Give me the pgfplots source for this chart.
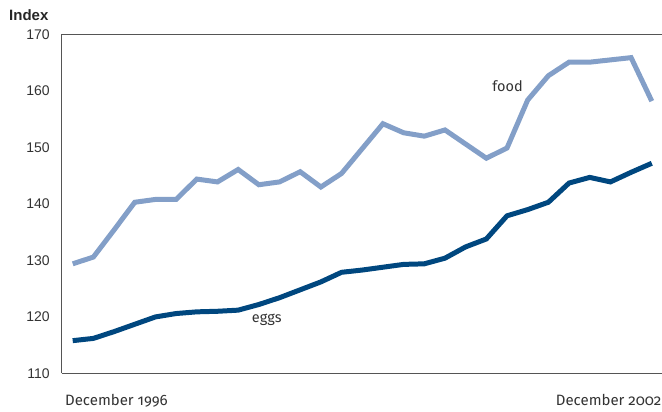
\documentclass[border=0pt]{standalone}
\usepackage{fontspec}
\setmainfont{Liberation Sans}
\newfontfamily\notefont[Numbers=OldStyle]{Fira Sans}
\usepackage{pgfplots}
\pgfplotsset{compat=1.18}
\definecolor{foodblue}{HTML}{839FC8}
\definecolor{eggnavy}{HTML}{00477F}
\definecolor{textgray}{HTML}{333333}
\definecolor{spine}{HTML}{555555}

\begin{document}
\begin{tikzpicture}
\begin{axis}[
  name=main, at={(0pt,0pt)}, anchor=south west,
  scale only axis, width=600pt, height=339.2pt,
  xmin=-0.52, xmax=28.47, ymin=110, ymax=170,
  axis x line*=box, axis y line*=left,
  axis line style={-, line width=1pt, color=spine},
  ytick={110,120,...,170}, xtick=\empty,
  major tick length=0pt,
  yticklabel style={font=\fontsize{14}{14}\selectfont, text=textgray,
    inner sep=0pt, anchor=east, xshift=-12pt},
  /pgf/number format/assume math mode=true,
  clip=false,
]
% food price index
\addplot[foodblue, line width=5pt] coordinates {
  (0,129.4) (1,130.6) (2,135.4) (3,140.3) (4,140.8) (5,140.8) (6,144.4)
  (7,143.9) (8,146.1) (9,143.4) (10,143.9) (11,145.7) (12,143.0) (13,145.4)
  (14,149.8) (15,154.2) (16,152.6) (17,152.0) (18,153.1) (19,150.6) (20,148.1)
  (21,149.9) (22,158.4) (23,162.7) (24,165.1) (25,165.1) (26,165.5) (27,165.9)
  (28,158.2)};
% egg price index
\addplot[eggnavy, line width=5pt] coordinates {
  (0,115.8) (1,116.2) (2,117.4) (3,118.7) (4,120.0) (5,120.6) (6,120.9)
  (7,121.0) (8,121.2) (9,122.2) (10,123.4) (11,124.8) (12,126.2) (13,127.9)
  (14,128.3) (15,128.8) (16,129.3) (17,129.4) (18,130.4) (19,132.4) (20,133.8)
  (21,137.9) (22,139.0) (23,140.3) (24,143.7) (25,144.7) (26,143.9) (27,145.6)
  (28,147.2)};
\end{axis}
% page frame: the axis box starts 62pt from the left and 38.3pt from the bottom
\path (-62pt,-38.3pt) rectangle (600pt,373.7pt);
\node[anchor=base west, inner sep=0pt, font=\bfseries\fontsize{15}{15}\selectfont, text=black!85] at (-53pt,353pt) {Index};
\begin{scope}[every node/.style={inner sep=0pt, text=textgray, font=\notefont\fontsize{14.5}{14.5}\selectfont}]
\node[anchor=base] at (446pt,281.7pt) {food};
\node[anchor=base] at (205pt,50.7pt) {eggs};
\node[anchor=base west, font=\notefont\fontsize{15}{15}\selectfont] at (3pt,-32.3pt) {December 1996};
\node[anchor=base east, font=\notefont\fontsize{15}{15}\selectfont] at (600pt,-32.3pt) {December 2002};
\end{scope}
\end{tikzpicture}
\end{document}
